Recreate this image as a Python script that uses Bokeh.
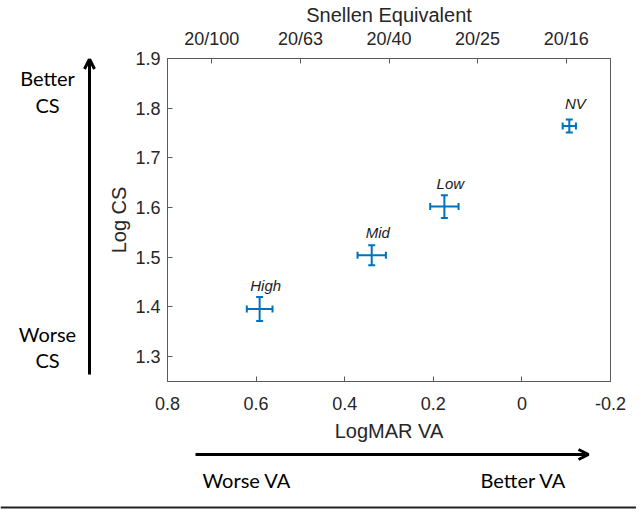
from bokeh.plotting import figure
from bokeh.layouts import row, column
from bokeh.models import (Range1d, LinearAxis, FixedTicker, Whisker, TeeHead,
                          Label, Arrow, OpenHead, ColumnDataSource, Title)
from bokeh.core.properties import value
from bokeh.embed import file_html
from bokeh.resources import INLINE

# ---- data ----
groups = ["High", "Mid", "Low", "NV"]
logmar = [0.592, 0.339, 0.175, -0.107]
logmar_err = [0.029, 0.032, 0.032, 0.015]
logcs = [1.396, 1.504, 1.602, 1.764]
logcs_err = [0.024, 0.020, 0.023, 0.013]

x_ticks = [0.8, 0.6, 0.4, 0.2, 0.0, -0.2]
x_tick_labels = ["0.8", "0.6", "0.4", "0.2", "0", "-0.2"]
y_ticks = [1.3, 1.4, 1.5, 1.6, 1.7, 1.8, 1.9]
y_tick_labels = ["1.3", "1.4", "1.5", "1.6", "1.7", "1.8", "1.9"]
snellen_ticks = [0.7, 0.5, 0.3, 0.1, -0.1]
snellen_labels = ["20/100", "20/63", "20/40", "20/25", "20/16"]

BLUE = "#0072BD"
TXT = "#262626"
AX = "#5a5a5a"
FONT = "Liberation Sans"
SIDE_FONT = "Lato"

BT, BB = 58, 62  # top / bottom borders of the main plot (px)

src = ColumnDataSource(dict(
    name=groups, x=logmar, y=logcs,
    xl=[a - e for a, e in zip(logmar, logmar_err)],
    xu=[a + e for a, e in zip(logmar, logmar_err)],
    yl=[a - e for a, e in zip(logcs, logcs_err)],
    yu=[a + e for a, e in zip(logcs, logcs_err)],
))

# ---- main plot ----
p = figure(width=536, height=444, x_range=Range1d(0.8, -0.2), y_range=Range1d(1.25, 1.9),
           output_backend="svg", toolbar_location=None,
           min_border_left=67, min_border_right=26, min_border_top=BT, min_border_bottom=BB)
p.background_fill_color = "white"
p.border_fill_color = "white"
p.outline_line_color = AX
p.outline_line_width = 1
p.xgrid.visible = False
p.ygrid.visible = False

def style_axis(ax, ticks, labels, standoff):
    ax.ticker = FixedTicker(ticks=ticks)
    ax.major_label_overrides = {t: l for t, l in zip(ticks, labels)}
    ax.major_tick_in = 5
    ax.major_tick_out = 0
    ax.minor_tick_line_color = None
    ax.axis_line_color = AX
    ax.major_tick_line_color = AX
    ax.major_label_text_font = FONT
    ax.major_label_text_font_size = "18px"
    ax.major_label_text_color = TXT
    ax.major_label_standoff = standoff
    ax.axis_label_text_font = FONT
    ax.axis_label_text_font_size = "20px"
    ax.axis_label_text_font_style = "normal"
    ax.axis_label_text_color = TXT

xa = p.xaxis[0]
style_axis(xa, x_ticks, x_tick_labels, 15)
xa.axis_label = "LogMAR VA"
xa.axis_label_standoff = 7

ya = p.yaxis[0]
style_axis(ya, y_ticks, y_tick_labels, 7)
ya.axis_label = "Log CS"
ya.axis_label_standoff = 2

top = LinearAxis()
style_axis(top, snellen_ticks, snellen_labels, 10)
p.add_layout(top, "above")
p.add_layout(Title(text="Snellen Equivalent", align="center", text_font=FONT,
                   text_font_size="20px", text_font_style="normal", text_color=TXT,
                   standoff=0), "above")

# error bars
for base, lo, hi, dim in [("y", "xl", "xu", "width"), ("x", "yl", "yu", "height")]:
    p.add_layout(Whisker(source=src, base=base, lower=lo, upper=hi, dimension=dim,
                         line_color=BLUE, line_width=2,
                         lower_head=TeeHead(size=7, line_color=BLUE, line_width=2),
                         upper_head=TeeHead(size=7, line_color=BLUE, line_width=2)))

p.text(x="x", y="y", text="name", source=src, text_align="center",
       text_baseline="alphabetic", x_offset=6, y_offset=-23,
       text_font=value(FONT), text_font_style="italic", text_font_size="15px",
       text_color="#1a1a1a")

# ---- decoration panels (page-pixel coordinates, top-down) ----
def deco(w, h, y0, y1, bt=0, bb=0):
    f = figure(width=w, height=h, x_range=Range1d(0, w), y_range=Range1d(y1, y0),
               output_backend="svg", toolbar_location=None,
               x_axis_location=None, y_axis_location=None,
               min_border_left=0, min_border_right=0, min_border_top=bt, min_border_bottom=bb)
    f.outline_line_color = None
    f.xgrid.visible = False
    f.ygrid.visible = False
    f.background_fill_color = "white"
    f.border_fill_color = "white"
    return f

# left panel: frame aligned with the main frame (page y 58 .. 382)
left = deco(100, 444, BT, 444 - BB, bt=BT, bb=BB)
left.add_layout(Arrow(x_start=89, y_start=375, x_end=89, y_end=58.5,
                      line_width=3, line_color="black",
                      end=OpenHead(size=10, line_width=3, line_color="black")))
for txt, yy in [("Better", 78), ("CS", 105), ("Worse", 334), ("CS", 360)]:
    left.add_layout(Label(x=47, y=yy, text=txt, text_align="center", text_baseline="middle",
                          text_font=SIDE_FONT, text_font_size="20px", text_color="black"))

# bottom panel: page y 444 .. 512
bottom = deco(636, 68, 444, 512)
bottom.add_layout(Arrow(x_start=195, y_start=454, x_end=588, y_end=454,
                        line_width=3, line_color="black",
                        end=OpenHead(size=10, line_width=3, line_color="black")))
bottom.add_layout(Arrow(x_start=0, y_start=507, x_end=636, y_end=507,
                        line_width=2, line_color="#222222", end=None))
for txt, xx in [("Worse VA", 202), ("Better VA", 480)]:
    bottom.add_layout(Label(x=xx, y=479, text=txt, text_align="left", text_baseline="middle",
                            text_font=SIDE_FONT, text_font_size="20px", text_color="black"))

layout = column(row(left, p), bottom)
open("out.html", "w").write(file_html(layout, INLINE))
